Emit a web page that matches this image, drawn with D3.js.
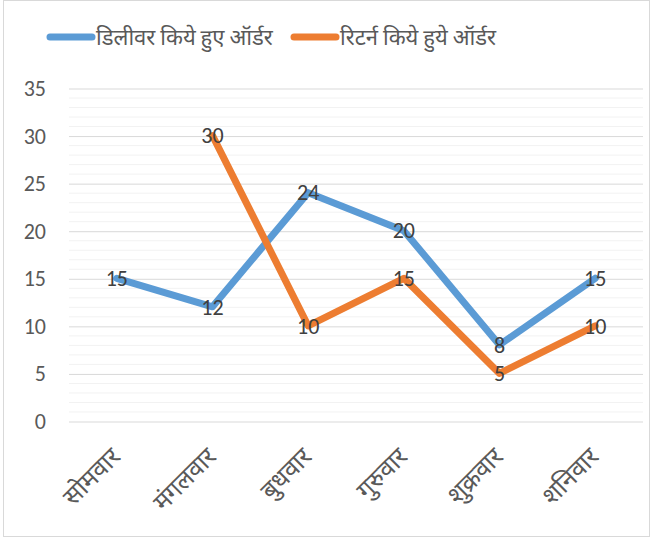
<!DOCTYPE html>
<html>
<head>
<meta charset="utf-8">
<script src="https://cdn.jsdelivr.net/npm/d3@7"></script>
<style>
body { margin: 0; background: #fff; }
text { font-family: Calibri, Carlito, "Noto Sans", "Open Sans", sans-serif; }
</style>
</head>
<body>
<script>
// data
var days = ["सोमवार", "मंगलवार", "बुधवार", "गुरुवार", "शुक्रवार", "शनिवार"];
var delivered = [15, 12, 24, 20, 8, 15];
var returned = [null, 30, 10, 15, 5, 10];
var seriesNames = ["डिलीवर किये हुए ऑर्डर", "रिटर्न किये हुये ऑर्डर"];
var seriesColors = ["#5b9bd5", "#ed7d31"];
var yTicks = [0, 5, 10, 15, 20, 25, 30, 35];

var width = 653, height = 542;
// plot area (note: "top" is taken by window.top)
var plotLeft = 69, plotRight = 643, plotTop = 88, plotBottom = 421;

var svg = d3.select("body").append("svg")
    .attr("width", width)
    .attr("height", height);

// chart border
svg.append("rect")
    .attr("x", 3.5).attr("y", 0.5)
    .attr("width", 646).attr("height", 536)
    .attr("fill", "none")
    .attr("stroke", "#d9d9d9");

var x = d3.scalePoint()
    .domain(days)
    .range([plotLeft, plotRight])
    .padding(0.5);

var y = d3.scaleLinear()
    .domain([0, 35])
    .range([plotBottom, plotTop]);

// minor gridlines
svg.append("g")
    .selectAll("line")
    .data(d3.range(0, 36).filter(function(v){ return v % 5 != 0; }))
    .enter().append("line")
    .attr("x1", plotLeft).attr("x2", plotRight)
    .attr("y1", function(d){ return y(d) + 0.5; })
    .attr("y2", function(d){ return y(d) + 0.5; })
    .attr("stroke", "#f2f2f2")
    .attr("stroke-width", 1);

// major gridlines + y labels
var yAxis = d3.axisLeft(y)
    .tickValues(yTicks)
    .tickSize(-(plotRight - plotLeft))
    .tickPadding(23);

var ga = svg.append("g")
    .attr("transform", "translate(" + plotLeft + ",0.5)")
    .call(yAxis);
ga.select(".domain").remove();
ga.selectAll(".tick line").attr("stroke", "#d9d9d9");
ga.selectAll(".tick text")
    .attr("fill", "#595959")
    .style("font-size", "22px");

// x labels
svg.append("g")
    .selectAll("text")
    .data(days)
    .enter().append("text")
    .attr("transform", function(d){ return "translate(" + (x(d) - 1) + ",452) rotate(-45)"; })
    .attr("text-anchor", "end")
    .attr("dy", "0.35em")
    .attr("fill", "#595959")
    .style("font-size", "25px")
    .text(function(d){ return d; });

var line = d3.line()
    .defined(function(d){ return d != null; })
    .x(function(d, i){ return x(days[i]); })
    .y(function(d){ return y(d); });

[delivered, returned].forEach(function(vals, s){
    svg.append("path")
        .datum(vals)
        .attr("d", line)
        .attr("fill", "none")
        .attr("stroke", seriesColors[s])
        .attr("stroke-width", 7)
        .attr("stroke-linejoin", "round")
        .attr("stroke-linecap", "round");
});

// data labels
[delivered, returned].forEach(function(vals){
    var pts = vals.map(function(v, i){ return {day: days[i], v: v}; })
        .filter(function(p){ return p.v != null; });
    svg.append("g")
        .selectAll("text")
        .data(pts)
        .enter().append("text")
        .attr("x", function(p){ return x(p.day); })
        .attr("y", function(p){ return y(p.v); })
        .attr("dy", "0.35em")
        .attr("text-anchor", "middle")
        .attr("fill", "#404040")
        .style("font-size", "22px")
        .text(function(p){ return p.v; });
});

// legend
var legendX = [48, 292];
seriesNames.forEach(function(name, s){
    var g = svg.append("g").attr("transform", "translate(" + legendX[s] + ",37)");
    g.append("line")
        .attr("x1", 2).attr("x2", 44)
        .attr("stroke", seriesColors[s])
        .attr("stroke-width", 7)
        .attr("stroke-linecap", "round");
    g.append("text")
        .attr("x", 48)
        .attr("dy", "0.35em")
        .attr("fill", "#595959")
        .style("font-size", "22px")
        .text(name);
});
</script>
</body>
</html>
